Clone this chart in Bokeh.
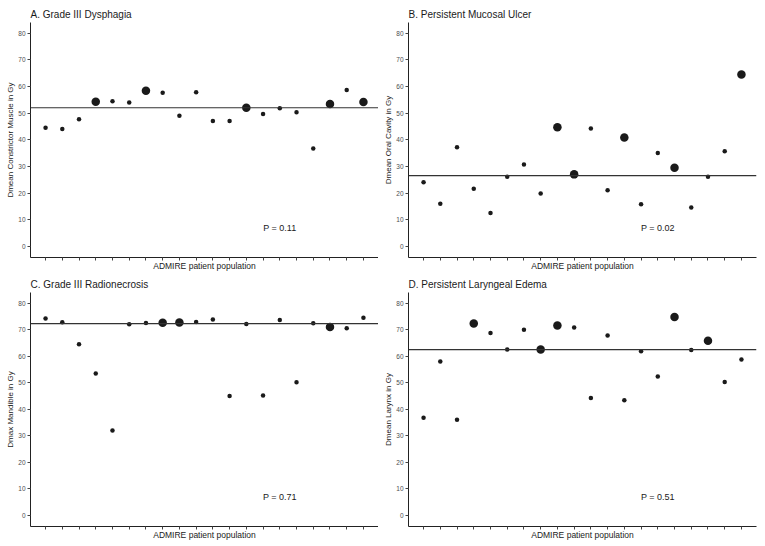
from bokeh.plotting import figure
from bokeh.layouts import column, row
from bokeh.models import Span, Label, FixedTicker
from bokeh.embed import file_html
from bokeh.resources import INLINE

patients = list(range(1, 21))

a_vals = [44.5, 44.0, 47.7, 54.3, 54.4, 54.0, 58.4, 57.6, 49.0, 57.8,
          47.0, 47.0, 52.0, 49.7, 51.8, 50.3, 36.7, 53.4, 58.7, 54.2]
a_event = [0, 0, 0, 1, 0, 0, 1, 0, 0, 0, 0, 0, 1, 0, 0, 0, 0, 1, 0, 1]
a_mean = 52.0

b_vals = [24.0, 16.0, 37.2, 21.6, 12.5, 26.1, 30.7, 19.8, 44.7, 27.0,
          44.2, 21.0, 40.8, 15.8, 35.0, 29.5, 14.6, 26.1, 35.7, 64.5]
b_event = [0, 0, 0, 0, 0, 0, 0, 0, 1, 1, 0, 0, 1, 0, 0, 1, 0, 0, 0, 1]
b_mean = 26.5

c_vals = [74.2, 72.8, 64.5, 53.5, 32.0, 72.0, 72.5, 72.6, 72.7, 72.9,
          73.8, 45.0, 72.1, 45.2, 73.6, 50.2, 72.4, 71.0, 70.5, 74.5]
c_event = [0, 0, 0, 0, 0, 0, 0, 1, 1, 0, 0, 0, 0, 0, 0, 0, 0, 1, 0, 0]
c_mean = 72.3

d_vals = [36.8, 58.0, 36.0, 72.3, 68.7, 62.5, 70.0, 62.5, 71.6, 70.8,
          44.2, 67.8, 43.4, 61.9, 52.3, 74.8, 62.3, 65.8, 50.3, 58.7]
d_event = [0, 0, 0, 1, 0, 0, 0, 1, 1, 0, 0, 0, 0, 0, 0, 1, 0, 1, 0, 0]
d_mean = 62.5

titles = ["A. Grade III Dysphagia", "B. Persistent Mucosal Ulcer",
          "C. Grade III Radionecrosis", "D. Persistent Laryngeal Edema"]
ylabels = ["Dmean Constrictor Muscle in Gy", "Dmean Oral Cavity in Gy",
           "Dmax Mandible in Gy", "Dmean Larynx in Gy"]
pvals = ["P = 0.11", "P = 0.02", "P = 0.71", "P = 0.51"]
xlabel = "ADMIRE patient population"
yticks = [0, 10, 20, 30, 40, 50, 60, 70, 80]

FONT = "Liberation Sans"


def panel(title, ylab, vals, events, mean, ptxt, width, height, bl, br, bt, bb):
    p = figure(width=width, height=height, output_backend="svg", toolbar_location=None,
               x_range=(0.1, 20.9), y_range=(-4.2, 84),
               min_border_left=bl, min_border_right=br,
               min_border_top=bt, min_border_bottom=bb)
    p.title.text = title
    p.title.text_font = FONT
    p.title.text_font_size = "10px"
    p.title.text_font_style = "normal"
    p.title.text_color = "#1a1a1a"
    p.title.standoff = 6
    p.title.offset = 0
    p.grid.visible = False
    p.outline_line_color = None
    p.background_fill_color = "white"

    for ax in (p.xaxis[0], p.yaxis[0]):
        ax.axis_line_color = "#222222"
        ax.axis_line_width = 1
        ax.major_tick_line_color = "#444444"
        ax.major_tick_out = 3
        ax.major_tick_in = 0
        ax.minor_tick_line_color = None
        ax.axis_label_text_font = FONT
        ax.axis_label_text_font_style = "normal"
        ax.axis_label_text_color = "#1a1a1a"
        ax.major_label_text_font = FONT
        ax.major_label_text_font_size = "6.5px"
        ax.major_label_text_color = "#4d4d4d"

    p.xaxis.ticker = FixedTicker(ticks=patients)
    p.xaxis.major_label_overrides = {i: "" for i in patients}
    p.xaxis.major_label_standoff = 0
    p.xaxis.axis_label = xlabel
    p.xaxis.axis_label_text_font_size = "8.5px"
    p.xaxis.axis_label_standoff = 0

    p.yaxis.ticker = FixedTicker(ticks=yticks)
    p.yaxis.axis_label = ylab
    p.yaxis.axis_label_text_font_size = "8px"
    p.yaxis.major_label_standoff = 2
    p.yaxis.axis_label_standoff = 0

    p.add_layout(Span(location=mean, dimension="width", line_color="#333333",
                      line_width=1.2))

    xs = [x for x, e in zip(patients, events) if not e]
    ys = [v for v, e in zip(vals, events) if not e]
    xb = [x for x, e in zip(patients, events) if e]
    yb = [v for v, e in zip(vals, events) if e]
    p.scatter(xs, ys, size=4.5, color="#1a1a1a", line_color=None)
    p.scatter(xb, yb, size=8.5, color="#1a1a1a", line_color=None)

    p.add_layout(Label(x=15, y=7, text=ptxt, text_align="center",
                       text_baseline="middle", text_font=FONT,
                       text_font_size="9px", text_color="#1a1a1a"))
    return p


pa = panel(titles[0], ylabels[0], a_vals, a_event, a_mean, pvals[0], 378, 273, 30, 0, 22, 16)
pb = panel(titles[1], ylabels[1], b_vals, b_event, b_mean, pvals[1], 387, 273, 30, 9, 22, 16)
pc = panel(titles[2], ylabels[2], c_vals, c_event, c_mean, pvals[2], 378, 272, 30, 0, 18, 19)
pd = panel(titles[3], ylabels[3], d_vals, d_event, d_mean, pvals[3], 387, 272, 30, 9, 18, 19)

layout = column(row(pa, pb), row(pc, pd))
open("out.html", "w").write(file_html(layout, INLINE))
